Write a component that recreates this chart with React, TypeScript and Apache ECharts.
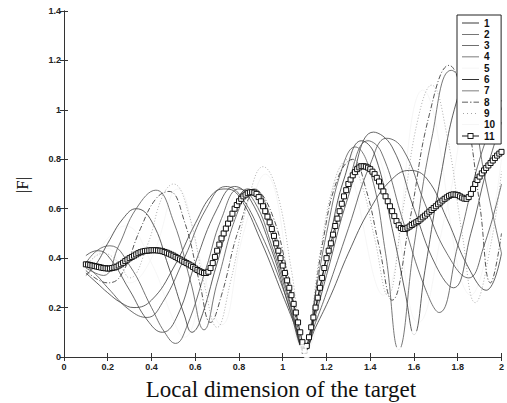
import React, { useEffect, useRef } from 'react';
import * as echarts from 'echarts';

type P = [number, number];

const xTickStep = 0.2;
const yTickStep = 0.2;

const s1: P[] = [[0.1,0.34],[0.15,0.30],[0.2,0.26],[0.26,0.22],[0.32,0.20],[0.4,0.23],[0.5,0.36],[0.6,0.54],[0.68,0.66],[0.74,0.68],[0.8,0.65],[0.9,0.47],[1.0,0.25],[1.05,0.14],[1.1,0.03],[1.15,0.12],[1.22,0.25],[1.3,0.42],[1.4,0.6],[1.5,0.72],[1.58,0.755],[1.66,0.72],[1.75,0.56],[1.85,0.36],[1.93,0.27],[2.0,0.42]];
const s2: P[] = [[0.1,0.37],[0.15,0.33],[0.2,0.28],[0.3,0.19],[0.38,0.16],[0.45,0.22],[0.55,0.40],[0.65,0.60],[0.74,0.69],[0.8,0.66],[0.9,0.5],[1.0,0.28],[1.05,0.15],[1.1,0.03],[1.15,0.14],[1.2,0.26],[1.3,0.52],[1.4,0.78],[1.475,0.885],[1.55,0.84],[1.65,0.62],[1.75,0.42],[1.85,0.32],[1.92,0.45],[2.0,0.7]];
const s3: P[] = [[0.1,0.41],[0.15,0.43],[0.2,0.41],[0.3,0.27],[0.38,0.15],[0.45,0.10],[0.52,0.17],[0.6,0.38],[0.7,0.6],[0.78,0.69],[0.85,0.64],[0.95,0.43],[1.03,0.2],[1.1,0.03],[1.15,0.17],[1.2,0.33],[1.3,0.65],[1.415,0.91],[1.5,0.85],[1.6,0.6],[1.7,0.37],[1.78,0.28],[1.86,0.5],[1.93,0.75],[2.0,0.95]];
const s4: P[] = [[0.1,0.38],[0.15,0.43],[0.21,0.45],[0.3,0.37],[0.4,0.2],[0.46,0.1],[0.51,0.055],[0.56,0.12],[0.65,0.36],[0.72,0.56],[0.8,0.68],[0.87,0.63],[0.95,0.45],[1.03,0.22],[1.1,0.03],[1.15,0.19],[1.2,0.36],[1.3,0.7],[1.39,0.875],[1.45,0.83],[1.55,0.55],[1.65,0.28],[1.715,0.18],[1.8,0.45],[1.9,0.8],[2.0,1.04]];
const s5: P[] = [[0.1,0.35],[0.2,0.48],[0.28,0.53],[0.4,0.38],[0.5,0.15],[0.55,0.08],[0.62,0.22],[0.75,0.6],[0.82,0.68],[0.95,0.44],[1.1,0.03],[1.25,0.62],[1.38,0.88],[1.5,0.62],[1.62,0.14],[1.75,0.6],[1.9,1.1],[2.0,1.0]];
const s6: P[] = [[0.1,0.33],[0.15,0.38],[0.2,0.46],[0.27,0.56],[0.33,0.60],[0.4,0.55],[0.48,0.36],[0.55,0.17],[0.585,0.10],[0.62,0.14],[0.7,0.38],[0.77,0.58],[0.84,0.68],[0.9,0.62],[0.97,0.42],[1.04,0.2],[1.1,0.02],[1.16,0.24],[1.22,0.5],[1.28,0.72],[1.36,0.875],[1.42,0.82],[1.5,0.52],[1.56,0.26],[1.6,0.09],[1.65,0.35],[1.72,0.72],[1.8,1.05],[1.88,1.2],[1.95,1.12],[2.0,1.0]];
const s7: P[] = [[0.1,0.36],[0.18,0.33],[0.25,0.45],[0.33,0.6],[0.42,0.675],[0.5,0.55],[0.58,0.3],[0.64,0.11],[0.7,0.3],[0.8,0.6],[0.87,0.68],[0.93,0.6],[1.0,0.38],[1.05,0.2],[1.1,0.03],[1.15,0.26],[1.2,0.5],[1.27,0.76],[1.33,0.85],[1.4,0.75],[1.47,0.42],[1.53,0.03],[1.6,0.45],[1.68,0.88],[1.77,1.16],[1.85,1.05],[1.93,0.7],[2.0,0.42]];
const s8: P[] = [[0.1,0.35],[0.2,0.3],[0.26,0.33],[0.35,0.52],[0.42,0.64],[0.48,0.67],[0.55,0.55],[0.62,0.3],[0.67,0.14],[0.72,0.25],[0.8,0.52],[0.88,0.67],[0.95,0.58],[1.02,0.35],[1.1,0.03],[1.18,0.45],[1.25,0.72],[1.32,0.8],[1.38,0.68],[1.44,0.45],[1.5,0.23],[1.58,0.55],[1.67,0.98],[1.76,1.18],[1.83,1.02],[1.9,0.62],[1.95,0.3],[2.0,0.5]];
const s9: P[] = [[0.1,0.37],[0.18,0.42],[0.25,0.38],[0.3,0.32],[0.38,0.45],[0.45,0.65],[0.5,0.7],[0.57,0.58],[0.64,0.3],[0.7,0.12],[0.76,0.3],[0.85,0.66],[0.91,0.77],[0.97,0.68],[1.04,0.35],[1.1,0.02],[1.17,0.42],[1.24,0.72],[1.3,0.8],[1.36,0.7],[1.42,0.48],[1.48,0.25],[1.55,0.6],[1.62,0.97],[1.68,1.1],[1.75,0.9],[1.82,0.5],[1.88,0.22],[1.95,0.45],[2.0,0.75]];
const s10: P[] = [[0.1,0.36],[0.2,0.44],[0.3,0.3],[0.4,0.4],[0.52,0.68],[0.62,0.4],[0.72,0.13],[0.82,0.5],[0.92,0.74],[1.1,0.02],[1.28,0.78],[1.46,0.25],[1.64,1.08],[1.86,0.25],[2.0,0.8]];

// series 11, sampled every 0.01 from x = 0.10 to x = 2.00
const sqStart = 0.1;
const sqStep = 0.01;
const sqY: number[] = [
  0.375,0.374,0.372,0.370,0.368,0.366,0.364,0.362,0.360,0.359,
  0.358,0.358,0.360,0.362,0.365,0.370,0.375,0.381,0.388,0.394,
  0.400,0.405,0.410,0.415,0.420,0.424,0.427,0.429,0.430,0.431,
  0.432,0.432,0.432,0.431,0.430,0.428,0.425,0.422,0.418,0.414,
  0.410,0.405,0.400,0.395,0.390,0.385,0.380,0.375,0.370,0.364,
  0.358,0.352,0.347,0.343,0.340,0.340,0.345,0.360,0.380,0.405,
  0.430,0.455,0.480,0.500,0.520,0.540,0.560,0.580,0.600,0.615,
  0.630,0.640,0.650,0.657,0.663,0.666,0.667,0.665,0.660,0.647,
  0.630,0.610,0.590,0.568,0.545,0.518,0.490,0.460,0.430,0.400,
  0.370,0.340,0.310,0.280,0.250,0.215,0.180,0.140,0.100,0.060,
  0.025,0.045,0.080,0.120,0.160,0.200,0.240,0.280,0.320,0.360,
  0.400,0.430,0.460,0.495,0.530,0.560,0.590,0.620,0.650,0.675,
  0.700,0.718,0.735,0.748,0.760,0.767,0.772,0.772,0.770,0.766,
  0.760,0.750,0.740,0.725,0.710,0.690,0.670,0.650,0.630,0.610,
  0.590,0.570,0.550,0.533,0.522,0.518,0.518,0.523,0.528,0.534,
  0.540,0.545,0.550,0.557,0.565,0.572,0.580,0.588,0.595,0.603,
  0.610,0.618,0.625,0.633,0.640,0.646,0.652,0.656,0.658,0.657,
  0.655,0.650,0.645,0.641,0.640,0.647,0.660,0.680,0.700,0.716,
  0.730,0.743,0.755,0.765,0.775,0.785,0.795,0.805,0.815,0.823,
  0.830,
];

const circles: P[] = [[1.09,0.035],[1.11,0.012],[1.53,0.025],[1.60,0.09]];

const names = ['1','2','3','4','5','6','7','8','9','10','11'];

const B0 = 'M0,0H0.01V0.01H0Z M16.99,9.99H17V10H16.99Z ';
const ICON_LINE = 'path://' + B0 + 'M0,4.6H17V5.4H0Z';
const ICON_DASHDOT = 'path://' + B0 + 'M0,4.6H6V5.4H0Z M8,4.6H9.5V5.4H8Z M11.5,4.6H17V5.4H11.5Z';
const ICON_DOT = 'path://' + B0 + 'M1,4.6H2V5.4H1Z M5,4.6H6V5.4H5Z M9,4.6H10V5.4H9Z M13,4.6H14V5.4H13Z';
const ICON_SQ = 'path://' + B0 + 'M0,4.6H5.5V5.4H0Z M11.5,4.6H17V5.4H11.5Z M5.5,2H11.5V8H5.5Z M6.4,2.9V7.1H10.6V2.9Z';

const colors: Record<string, string> = {
  '1': '#3a3a3a', '2': '#4a4a4a', '3': '#404040', '4': '#505050', '5': '#f4f4f4',
  '6': '#333333', '7': '#555555', '8': '#2a2a2a', '9': '#9a9a9a', '10': '#f4f4f4', '11': '#1a1a1a',
};

export default function App() {
  const ref = useRef<HTMLDivElement>(null);
  useEffect(() => {
    if (!ref.current) return;
    const chart = echarts.init(ref.current, undefined, { renderer: 'svg' });
    const lineSeries = (name: string, data: P[], type: any = 'solid', width = 0.8) => ({
      name, type: 'line', data, smooth: 0.45, symbol: 'none', z: 2,
      lineStyle: { color: colors[name], width, type },
      itemStyle: { color: colors[name] },
    });
    const sq = sqY.map((y, i) => [Math.round((sqStart + i * sqStep) * 100) / 100, y]);
    const axisCommon = {
      axisLine: { show: true, lineStyle: { color: '#333', width: 1 } },
      axisTick: { show: true, inside: true, length: 4, lineStyle: { color: '#333' } },
      splitLine: { show: false },
    };
    const labelStyle = { color: '#222', fontSize: 9, fontFamily: 'Liberation Sans', fontWeight: 'bold' as const };
    const legendData = names.map((n) => ({
      name: n,
      icon: n === '8' ? ICON_DASHDOT : n === '9' ? ICON_DOT : n === '11' ? ICON_SQ : ICON_LINE,
      itemStyle: { color: n === '9' ? '#888' : colors[n], borderWidth: 0 },
    }));
    chart.setOption({
      animation: false,
      backgroundColor: '#fff',
      grid: { left: 64, right: 1, top: 11, bottom: 46 },
      xAxis: [
        { type: 'value', min: 0, max: 2, interval: xTickStep, ...axisCommon, axisLabel: { ...labelStyle, margin: 5 } },
        { type: 'value', min: 0, max: 2, interval: xTickStep, position: 'top', ...axisCommon, axisLabel: { show: false } },
      ],
      yAxis: [
        { type: 'value', min: 0, max: 1.4, interval: yTickStep, ...axisCommon, axisLabel: { ...labelStyle, margin: 3 } },
        { type: 'value', min: 0, max: 1.4, interval: yTickStep, position: 'right', ...axisCommon, axisLabel: { show: false } },
      ],
      legend: {
        data: legendData,
        orient: 'vertical',
        left: 457, top: 15,
        padding: [3, 6, 3, 5],
        itemGap: 1.3,
        itemWidth: 17,
        itemHeight: 10,
        backgroundColor: '#fff',
        borderColor: '#222',
        borderWidth: 1,
        borderRadius: 0,
        textStyle: { fontSize: 10, fontFamily: 'Liberation Sans', fontWeight: 'bold', color: '#111' },
      },
      series: [
        lineSeries('5', s5),
        lineSeries('10', s10),
        lineSeries('1', s1),
        lineSeries('2', s2),
        lineSeries('3', s3),
        lineSeries('4', s4),
        lineSeries('6', s6),
        lineSeries('7', s7),
        lineSeries('8', s8, [5, 2, 1, 2]),
        lineSeries('9', s9, [1, 2]),
        {
          name: '11', type: 'line', data: sq, smooth: 0.3, z: 5,
          symbol: 'rect', symbolSize: 5, showAllSymbol: true,
          lineStyle: { color: '#1a1a1a', width: 1 },
          itemStyle: { color: '#fff', borderColor: '#111', borderWidth: 1 },
        },
        {
          name: 'min', type: 'scatter', data: circles, symbol: 'emptyCircle', symbolSize: 7, z: 6,
          itemStyle: { color: '#fff', borderColor: '#555', borderWidth: 1 },
        },
      ],
      graphic: [
        { type: 'text', x: 281, y: 389, style: { text: 'Local dimension of the target', font: '23px "Liberation Serif"', fill: '#111', align: 'center', verticalAlign: 'middle' } },
        { type: 'text', x: 22, y: 185, rotation: Math.PI / 2, style: { text: '|F|', font: '17px "Liberation Serif"', fill: '#000', align: 'center', verticalAlign: 'middle' } },
      ],
    });
    return () => chart.dispose();
  }, []);
  return <div ref={ref} style={{ position: 'fixed', left: 0, top: 0, width: 507, height: 403 }} />;
}
